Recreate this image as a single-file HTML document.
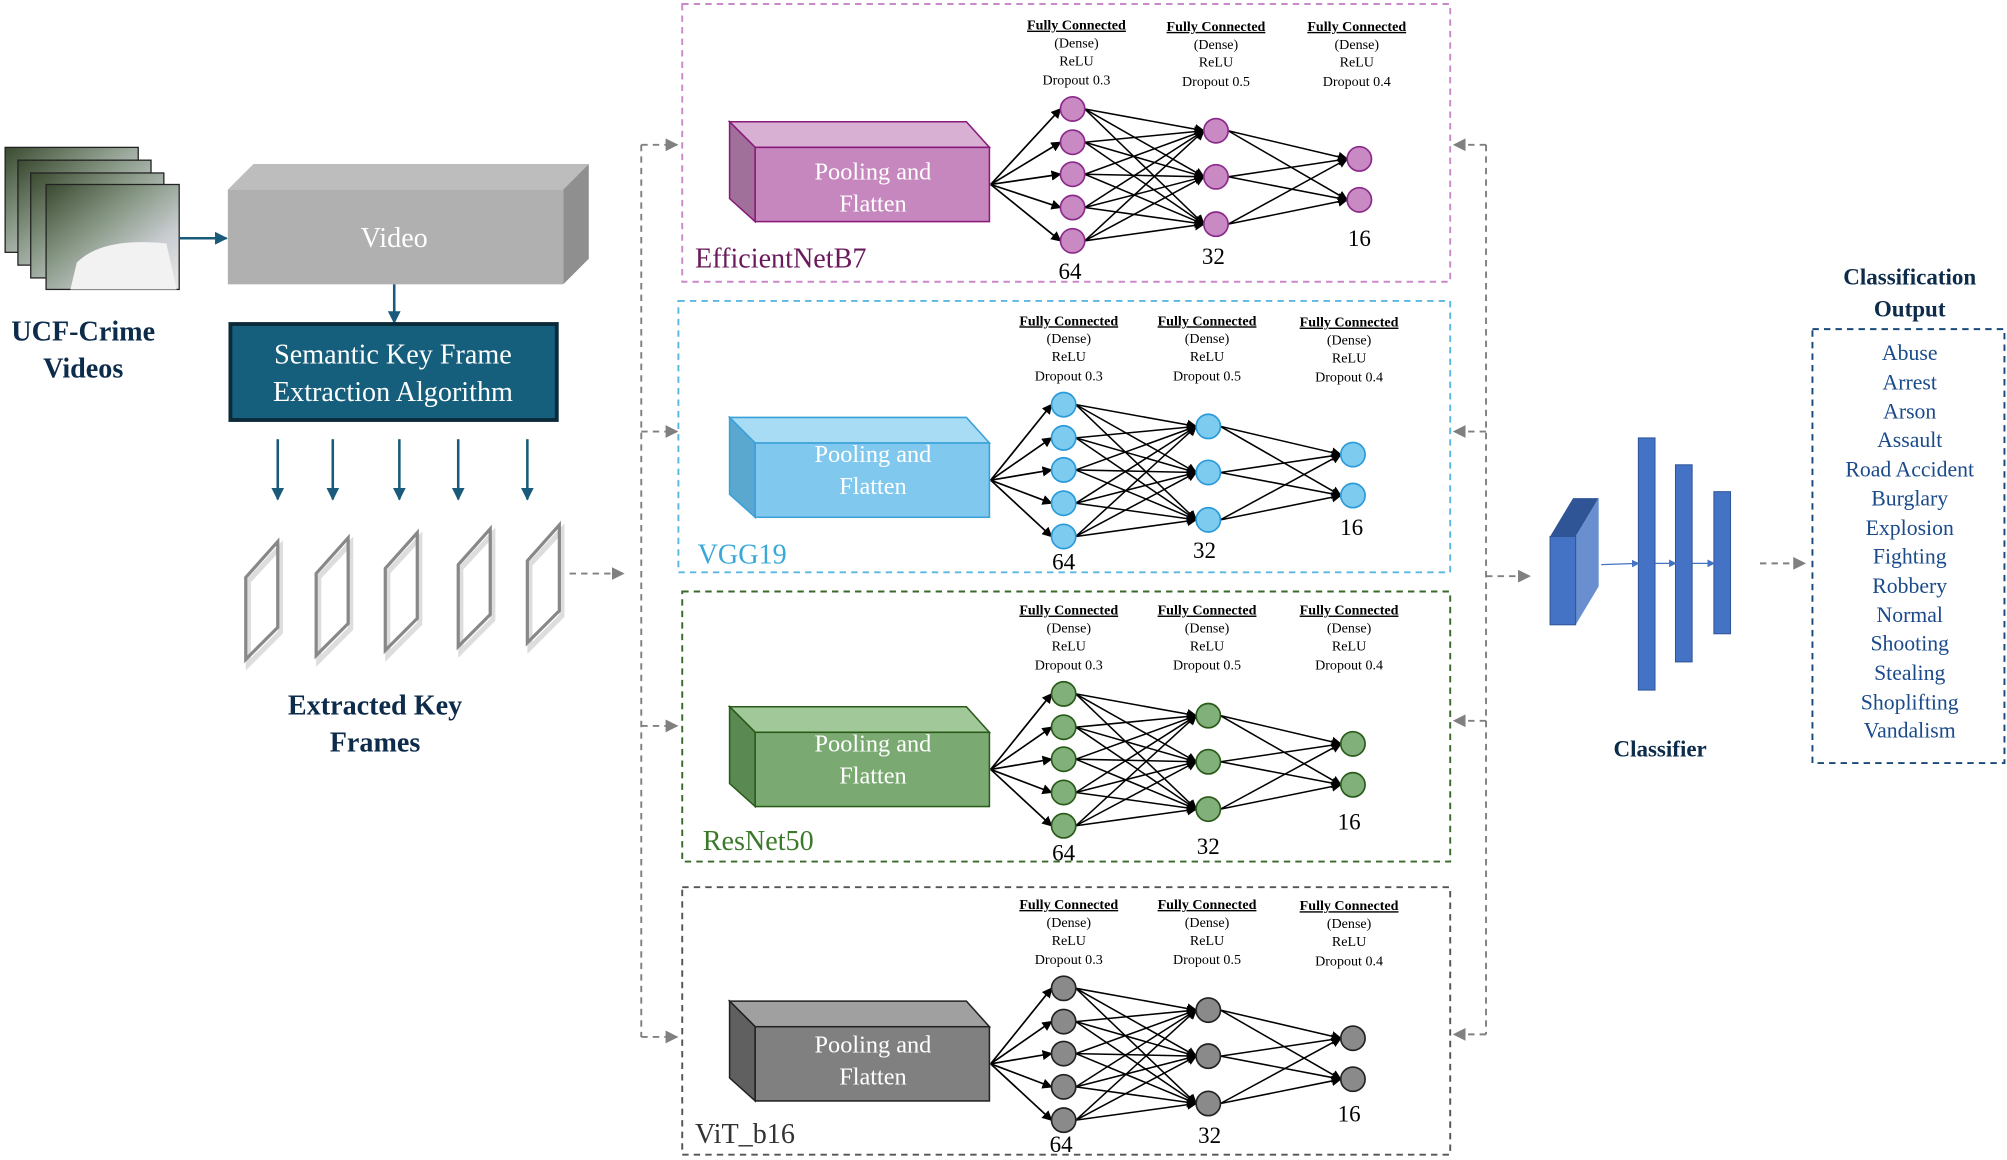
<!DOCTYPE html>
<html><head><meta charset="utf-8">
<style>
html,body{margin:0;padding:0;background:#fff;}
svg{display:block;}
text{font-family:"Liberation Serif",serif;}
.h{font-size:11px;fill:#000;text-anchor:middle;}
.hb{font-size:11px;fill:#000;text-anchor:middle;font-weight:bold;text-decoration:underline;}
.pf{font-size:19px;fill:#fff;text-anchor:middle;}
.num{font-size:18px;fill:#000;text-anchor:middle;}
.bl{font-weight:bold;fill:#0d2b4a;text-anchor:middle;font-size:22px;}
.cls{font-size:17px;fill:#1a4a8a;text-anchor:middle;}
</style></head>
<body>
<svg id="s" width="2007" height="1160" viewBox="0 0 1568 906" xmlns="http://www.w3.org/2000/svg">
<defs>
<marker id="ab" markerWidth="8" markerHeight="8" refX="7" refY="4" orient="auto" markerUnits="userSpaceOnUse"><path d="M0,0 L8,4 L0,8z" fill="#000"/></marker>
<marker id="ag" markerWidth="10" markerHeight="10" refX="9" refY="5" orient="auto" markerUnits="userSpaceOnUse"><path d="M0,0 L10,5 L0,10z" fill="#808080"/></marker>
<marker id="at" markerWidth="10" markerHeight="10" refX="9" refY="5" orient="auto" markerUnits="userSpaceOnUse"><path d="M0,0 L10,5 L0,10z" fill="#1a5a7a"/></marker>
<marker id="ac" markerWidth="6" markerHeight="6" refX="5" refY="3" orient="auto" markerUnits="userSpaceOnUse"><path d="M0,0 L6,3 L0,6z" fill="#4472c4"/></marker>
<linearGradient id="img" x1="0" y1="0" x2="1" y2="1"><stop offset="0" stop-color="#3a4a30"/><stop offset="0.4" stop-color="#8a9a88"/><stop offset="0.7" stop-color="#c8ccd0"/><stop offset="1" stop-color="#e8e8e8"/></linearGradient>
</defs>

<!-- video frames -->
<rect x="4" y="115" width="104" height="82" fill="url(#img)" stroke="#222" stroke-width="1"/>
<rect x="14" y="125" width="104" height="82" fill="url(#img)" stroke="#222" stroke-width="1"/>
<rect x="24" y="135" width="104" height="82" fill="url(#img)" stroke="#222" stroke-width="1"/>
<rect x="36" y="144" width="104" height="82" fill="url(#img)" stroke="#222" stroke-width="1"/>
<path d="M60,205 Q80,185 130,190 L138,226 L55,226z" fill="#f2f2f2"/>
<line x1="140" y1="186" x2="177" y2="186" stroke="#1a5a7a" stroke-width="2" marker-end="url(#at)"/>
<text class="bl" x="65" y="266">UCF-Crime</text>
<text class="bl" x="65" y="295">Videos</text>

<!-- Video box -->
<polygon points="178,148 198,128 460,128 440,148" fill="#bdbdbd"/>
<polygon points="440,148 460,128 460,202 440,222" fill="#8f8f8f"/>
<rect x="178" y="148" width="262" height="74" fill="#b0b0b0"/>
<text x="308" y="193" style="font-size:22px;fill:#fff;text-anchor:middle">Video</text>
<line x1="308" y1="222" x2="308" y2="252" stroke="#1a5a7a" stroke-width="2" marker-end="url(#at)"/>
<rect x="180" y="253" width="255" height="75" fill="#155e7c" stroke="#0a2a3a" stroke-width="3"/>
<text x="307" y="284" style="font-size:22px;fill:#fff;text-anchor:middle">Semantic Key Frame</text>
<text x="307" y="313" style="font-size:22px;fill:#fff;text-anchor:middle">Extraction Algorithm</text>
<g id="darr"></g>
<g id="frames"></g>
<line x1="445" y1="448" x2="487" y2="448" stroke="#808080" stroke-width="1.5" stroke-dasharray="5,4" marker-end="url(#ag)"/>
<text class="bl" x="293" y="558">Extracted Key</text>
<text class="bl" x="293" y="587">Frames</text>

<!-- left bracket -->
<line x1="501" y1="113" x2="501" y2="810" stroke="#808080" stroke-width="1.5" stroke-dasharray="5,4"/>
<g id="lb"></g>
<line x1="1161" y1="113" x2="1161" y2="808" stroke="#808080" stroke-width="1.5" stroke-dasharray="5,4"/>
<g id="rb"></g>
<line x1="1161" y1="450" x2="1195" y2="450" stroke="#808080" stroke-width="1.5" stroke-dasharray="5,4" marker-end="url(#ag)"/>

<!-- panels -->
<rect x="533" y="3" width="600" height="217" fill="none" stroke="#c98ac9" stroke-width="1.5" stroke-dasharray="5,4"/>
<rect x="530" y="235" width="603" height="212" fill="none" stroke="#5ab8e0" stroke-width="1.5" stroke-dasharray="5,4"/>
<rect x="533" y="462" width="600" height="211" fill="none" stroke="#3a6a2a" stroke-width="1.5" stroke-dasharray="5,4"/>
<rect x="533" y="693" width="600" height="209" fill="none" stroke="#555" stroke-width="1.5" stroke-dasharray="5,4"/>
<g id="nets"></g>

<!-- panel texts -->
<g>
<text class="hb" x="841" y="23">Fully Connected</text><text class="h" x="841" y="37">(Dense)</text><text class="h" x="841" y="51">ReLU</text><text class="h" x="841" y="66">Dropout 0.3</text>
<text class="hb" x="950" y="24">Fully Connected</text><text class="h" x="950" y="38">(Dense)</text><text class="h" x="950" y="52">ReLU</text><text class="h" x="950" y="67">Dropout 0.5</text>
<text class="hb" x="1060" y="24">Fully Connected</text><text class="h" x="1060" y="38">(Dense)</text><text class="h" x="1060" y="52">ReLU</text><text class="h" x="1060" y="67">Dropout 0.4</text>
<text class="pf" x="682" y="140">Pooling and</text><text class="pf" x="682" y="165">Flatten</text>
<text class="num" x="836" y="218">64</text><text class="num" x="948" y="206">32</text><text class="num" x="1062" y="192">16</text>
<text x="543" y="209" style="font-size:22px;fill:#6a1a5a">EfficientNetB7</text>
</g>
<g>
<text class="hb" x="835" y="254">Fully Connected</text><text class="h" x="835" y="268">(Dense)</text><text class="h" x="835" y="282">ReLU</text><text class="h" x="835" y="297">Dropout 0.3</text>
<text class="hb" x="943" y="254">Fully Connected</text><text class="h" x="943" y="268">(Dense)</text><text class="h" x="943" y="282">ReLU</text><text class="h" x="943" y="297">Dropout 0.5</text>
<text class="hb" x="1054" y="255">Fully Connected</text><text class="h" x="1054" y="269">(Dense)</text><text class="h" x="1054" y="283">ReLU</text><text class="h" x="1054" y="298">Dropout 0.4</text>
<text class="pf" x="682" y="361">Pooling and</text><text class="pf" x="682" y="386">Flatten</text>
<text class="num" x="831" y="445">64</text><text class="num" x="941" y="436">32</text><text class="num" x="1056" y="418">16</text>
<text x="545" y="440" style="font-size:22px;fill:#3aa8d8">VGG19</text>
</g>
<g>
<text class="hb" x="835" y="480">Fully Connected</text><text class="h" x="835" y="494">(Dense)</text><text class="h" x="835" y="508">ReLU</text><text class="h" x="835" y="523">Dropout 0.3</text>
<text class="hb" x="943" y="480">Fully Connected</text><text class="h" x="943" y="494">(Dense)</text><text class="h" x="943" y="508">ReLU</text><text class="h" x="943" y="523">Dropout 0.5</text>
<text class="hb" x="1054" y="480">Fully Connected</text><text class="h" x="1054" y="494">(Dense)</text><text class="h" x="1054" y="508">ReLU</text><text class="h" x="1054" y="523">Dropout 0.4</text>
<text class="pf" x="682" y="587">Pooling and</text><text class="pf" x="682" y="612">Flatten</text>
<text class="num" x="831" y="672">64</text><text class="num" x="944" y="667">32</text><text class="num" x="1054" y="648">16</text>
<text x="549" y="664" style="font-size:22px;fill:#3a7a2a">ResNet50</text>
</g>
<g>
<text class="hb" x="835" y="710">Fully Connected</text><text class="h" x="835" y="724">(Dense)</text><text class="h" x="835" y="738">ReLU</text><text class="h" x="835" y="753">Dropout 0.3</text>
<text class="hb" x="943" y="710">Fully Connected</text><text class="h" x="943" y="724">(Dense)</text><text class="h" x="943" y="738">ReLU</text><text class="h" x="943" y="753">Dropout 0.5</text>
<text class="hb" x="1054" y="711">Fully Connected</text><text class="h" x="1054" y="725">(Dense)</text><text class="h" x="1054" y="739">ReLU</text><text class="h" x="1054" y="754">Dropout 0.4</text>
<text class="pf" x="682" y="822">Pooling and</text><text class="pf" x="682" y="847">Flatten</text>
<text class="num" x="829" y="900">64</text><text class="num" x="945" y="893">32</text><text class="num" x="1054" y="876">16</text>
<text x="543" y="893" style="font-size:22px;fill:#333">ViT_b16</text>
</g>

<!-- classifier -->
<polygon points="1211,419 1229,389 1249,389 1231,419" fill="#2f5597"/>
<polygon points="1231,419 1249,389 1249,458 1231,488" fill="#6a8fd0"/>
<rect x="1211" y="419" width="20" height="69" fill="#4472c4" stroke="#2f5597" stroke-width="0.8"/>
<rect x="1280" y="342" width="13" height="197" fill="#4472c4" stroke="#2f5597" stroke-width="0.8"/>
<rect x="1309" y="363" width="13" height="154" fill="#4472c4" stroke="#2f5597" stroke-width="0.8"/>
<rect x="1339" y="384" width="13" height="111" fill="#4472c4" stroke="#2f5597" stroke-width="0.8"/>
<line x1="1251" y1="441" x2="1280" y2="440" stroke="#4472c4" stroke-width="1" marker-end="url(#ac)"/>
<line x1="1293" y1="440" x2="1309" y2="440" stroke="#4472c4" stroke-width="1" marker-end="url(#ac)"/>
<line x1="1322" y1="440" x2="1339" y2="440" stroke="#4472c4" stroke-width="1" marker-end="url(#ac)"/>
<line x1="1375" y1="440" x2="1410" y2="440" stroke="#808080" stroke-width="1.5" stroke-dasharray="5,4" marker-end="url(#ag)"/>
<text class="bl" x="1297" y="591" style="font-size:18px">Classifier</text>
<text class="bl" x="1492" y="222" style="font-size:18px">Classification</text>
<text class="bl" x="1492" y="247" style="font-size:18px">Output</text>
<rect x="1416" y="257" width="150" height="339" fill="none" stroke="#1a4a7a" stroke-width="1.5" stroke-dasharray="5,4"/>
<text class="cls" x="1492" y="281">Abuse</text>
<text class="cls" x="1492" y="304">Arrest</text>
<text class="cls" x="1492" y="327">Arson</text>
<text class="cls" x="1492" y="349">Assault</text>
<text class="cls" x="1492" y="372">Road Accident</text>
<text class="cls" x="1492" y="395">Burglary</text>
<text class="cls" x="1492" y="418">Explosion</text>
<text class="cls" x="1492" y="440">Fighting</text>
<text class="cls" x="1492" y="463">Robbery</text>
<text class="cls" x="1492" y="486">Normal</text>
<text class="cls" x="1492" y="508">Shooting</text>
<text class="cls" x="1492" y="531">Stealing</text>
<text class="cls" x="1492" y="554">Shoplifting</text>
<text class="cls" x="1492" y="576">Vandalism</text>
</svg>
<script>
var NS="http://www.w3.org/2000/svg";
function el(p,t,a){var e=document.createElementNS(NS,t);for(var k in a)e.setAttribute(k,a[k]);p.appendChild(e);return e;}
var darr=document.getElementById('darr');
[217,260,312,358,412].forEach(function(x){el(darr,'line',{x1:x,y1:343,x2:x,y2:390,stroke:'#1a5a7a','stroke-width':2,'marker-end':'url(#at)'});});
var fr=document.getElementById('frames');
[[192,423],[247,420],[301,416],[358,413],[412,410]].forEach(function(p){var x=p[0],y=p[1];
el(fr,'polygon',{points:(x+2)+','+(y+31)+' '+(x+27)+','+(y+4)+' '+(x+27)+','+(y+71)+' '+(x+2)+','+(y+96),fill:'none',stroke:'#ddd','stroke-width':4});
el(fr,'polygon',{points:x+','+(y+28)+' '+(x+25)+','+y+' '+(x+25)+','+(y+67)+' '+x+','+(y+92),fill:'none',stroke:'#888','stroke-width':2.5});});
var lb=document.getElementById('lb'),rb=document.getElementById('rb');
[113,337,567,810].forEach(function(y){el(lb,'line',{x1:501,y1:y,x2:529,y2:y,stroke:'#808080','stroke-width':1.5,'stroke-dasharray':'5,4','marker-end':'url(#ag)'});});
[113,337,563,808].forEach(function(y){el(rb,'line',{x1:1161,y1:y,x2:1136,y2:y,stroke:'#808080','stroke-width':1.5,'stroke-dasharray':'5,4','marker-end':'url(#ag)'});});
var nets=document.getElementById('nets');
var P=[
 {dy:0,xs:[838,950,1062],fill:'#c98ac4',st:'#8a2a8a',front:'#c587bd',top:'#d8b0d4',side:'#a0709a',bs:'#8a1a7a'},
 {dy:231,xs:[831,944,1057],fill:'#7ecbf0',st:'#2a9ad8',front:'#80c8ee',top:'#a8dcf5',side:'#5aa8d0',bs:'#3aa0d8'},
 {dy:457,xs:[831,944,1057],fill:'#82b07a',st:'#2a5a1a',front:'#7aaa72',top:'#a0c898',side:'#5a8a52',bs:'#2a5a1a'},
 {dy:687,xs:[831,944,1057],fill:'#8a8a8a',st:'#222',front:'#808080',top:'#a0a0a0',side:'#606060',bs:'#222'}];
var L1=[85,111,136,162,188],L2=[102,138,175],L3=[124,156];
P.forEach(function(p){var d=p.dy,g=el(nets,'g',{});
 el(g,'polygon',{points:'570,'+(95+d)+' 755,'+(95+d)+' 773,'+(115+d)+' 590,'+(115+d),fill:p.top,stroke:p.bs,'stroke-width':1.2});
 el(g,'polygon',{points:'570,'+(95+d)+' 590,'+(115+d)+' 590,'+(173+d)+' 570,'+(155+d),fill:p.side,stroke:p.bs,'stroke-width':1.2});
 el(g,'rect',{x:590,y:115+d,width:183,height:58,fill:p.front,stroke:p.bs,'stroke-width':1.2});
 var x1=p.xs[0],x2=p.xs[1],x3=p.xs[2],r=9.5;
 L1.forEach(function(y){el(g,'line',{x1:774,y1:144+d,x2:x1-r,y2:y+d,stroke:'#000','stroke-width':1.3,'marker-end':'url(#ab)'});});
 L1.forEach(function(a){L2.forEach(function(b){el(g,'line',{x1:x1+r,y1:a+d,x2:x2-r,y2:b+d,stroke:'#000','stroke-width':1.2,'marker-end':'url(#ab)'});});});
 L2.forEach(function(a){L3.forEach(function(b){el(g,'line',{x1:x2+r,y1:a+d,x2:x3-r,y2:b+d,stroke:'#000','stroke-width':1.2,'marker-end':'url(#ab)'});});});
 L1.forEach(function(y){el(g,'circle',{cx:x1,cy:y+d,r:r,fill:p.fill,stroke:p.st,'stroke-width':1.3});});
 L2.forEach(function(y){el(g,'circle',{cx:x2,cy:y+d,r:r,fill:p.fill,stroke:p.st,'stroke-width':1.3});});
 L3.forEach(function(y){el(g,'circle',{cx:x3,cy:y+d,r:r,fill:p.fill,stroke:p.st,'stroke-width':1.3});});
});
// move nets below texts is fine; ensure nets drawn before text: already placed before text groups
</script>
</body></html>
